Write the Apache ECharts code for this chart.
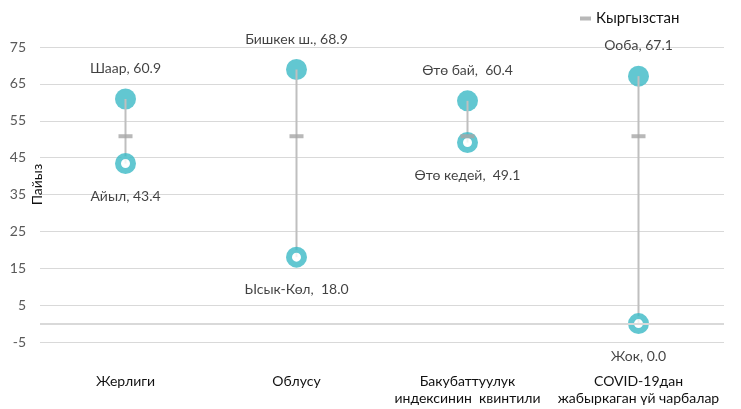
<!DOCTYPE html>
<html><head><meta charset="utf-8">
<script src="https://cdn.jsdelivr.net/npm/echarts@6/dist/echarts.min.js"></script>
<style>html,body{margin:0;padding:0;background:#fff}#c{width:741px;height:409px}</style>
</head><body><div id="c"></div>
<script>
const categories = ['Жерлиги', 'Облусу', 'Бакубаттуулук\nиндексинин  квинтили', 'COVID-19дан\nжабыркаган үй чарбалар'];
const highNames = ['Шаар', 'Бишкек ш.', 'Өтө бай', 'Ооба'];
const highValues = [60.9, 68.9, 60.4, 67.1];
const lowNames = ['Айыл', 'Ысык-Көл', 'Өтө кедей', 'Жок'];
const lowValues = [43.4, 18.0, 49.1, 0.0];
const nationalValues = [50.8, 50.8, 50.8, 50.8];
const yTicks = { min: -5, max: 75, interval: 10 };

const FONT = 'Lato, "Open Sans", "Liberation Sans", sans-serif';
const TEAL = '#3BB9C5';
const TXT = '#111111';
const chart = echarts.init(document.getElementById('c'));
chart.setOption({
  animation: false,
  textStyle: { fontFamily: FONT },
  grid: { left: 40, right: 17, top: 47, bottom: 67, outerBoundsMode: 'none', containLabel: false },
  legend: {
    data: [{ name: 'Кыргызстан', icon: 'rect' }],
    top: 6, left: 575, itemWidth: 11, itemHeight: 4,
    textStyle: { fontSize: 15, color: TXT, fontFamily: FONT },
    itemGap: 8
  },
  xAxis: {
    type: 'category', data: categories,
    axisLine: { show: false }, axisTick: { show: false },
    axisLabel: { interval: 0, fontSize: 14, color: TXT, lineHeight: 17, margin: 31, fontFamily: FONT }
  },
  yAxis: {
    type: 'value', min: yTicks.min, max: yTicks.max, interval: yTicks.interval,
    name: 'Пайыз', nameLocation: 'middle', nameGap: -4, nameRotate: 90, nameMoveOverlap: false,
    nameTextStyle: { fontSize: 14, color: TXT, fontFamily: FONT, padding: [0, 0, 0, 20] },
    axisLine: { show: false }, axisTick: { show: false },
    axisLabel: { fontSize: 14, color: '#595959', margin: 14, fontFamily: FONT },
    splitLine: { lineStyle: { color: '#D9D9D9', width: 1 } }
  },
  series: [
    {
      type: 'scatter', name: 'high', data: highValues, symbol: 'circle', symbolSize: 21, z: 2,
      itemStyle: { color: TEAL },
      label: { show: true, position: 'top', distance: 13, fontSize: 14, color: TXT, fontFamily: FONT,
        formatter: p => highNames[p.dataIndex] + ',' + (p.dataIndex === 2 ? '  ' : ' ') + highValues[p.dataIndex].toFixed(1) },
      markLine: {
        silent: true, symbol: 'none', label: { show: false },
        lineStyle: { color: '#D9D9D9', width: 2, type: 'solid' },
        data: [{ yAxis: 0 }]
      }
    },
    {
      type: 'custom', name: 'range', z: 3,
      data: categories.map((c, i) => [i, lowValues[i], highValues[i]]),
      renderItem: (params, api) => {
        const a = api.coord([api.value(0), api.value(1)]);
        const b = api.coord([api.value(0), api.value(2)]);
        return { type: 'line', shape: { x1: a[0], y1: a[1], x2: b[0], y2: b[1] },
          style: { stroke: '#BFBFBF', lineWidth: 2 } };
      }
    },
    {
      type: 'scatter', name: 'low', data: lowValues, symbol: 'circle', symbolSize: 15, z: 4,
      itemStyle: { color: '#fff', borderColor: TEAL, borderWidth: 6 },
      label: { show: true, position: 'bottom', distance: 15, fontSize: 14, color: TXT, fontFamily: FONT,
        formatter: p => lowNames[p.dataIndex] + ',' + (p.dataIndex === 1 || p.dataIndex === 2 ? '  ' : ' ') + lowValues[p.dataIndex].toFixed(1) }
    },
    {
      type: 'scatter', name: 'Кыргызстан', data: nationalValues, symbol: 'rect', symbolSize: [14, 4], z: 5,
      itemStyle: { color: '#A6A6A6' }
    }
  ]
});
</script></body></html>
